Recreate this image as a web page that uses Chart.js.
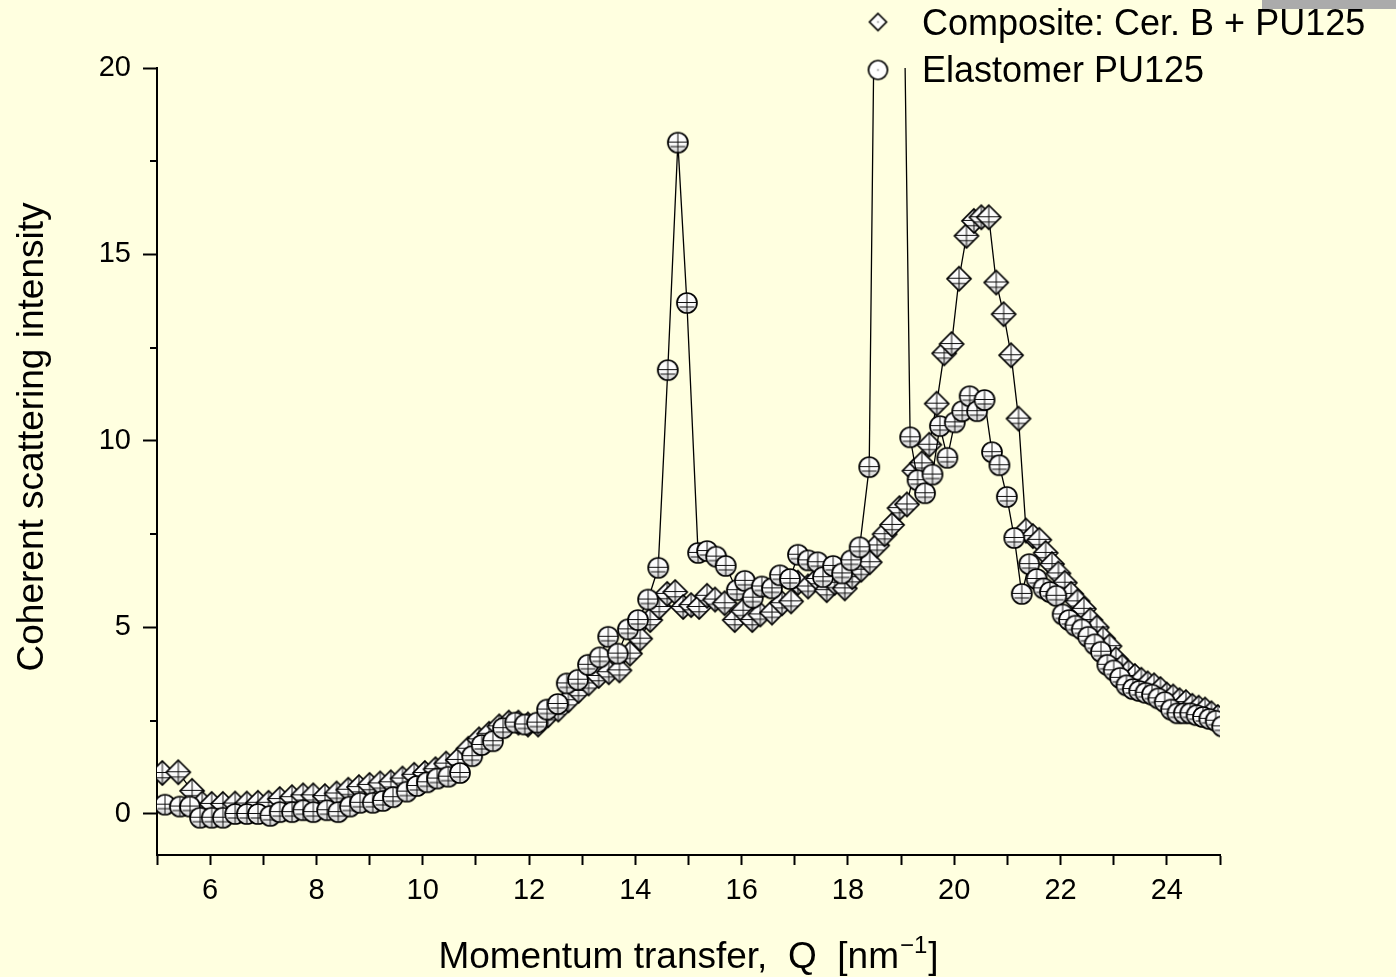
<!DOCTYPE html>
<html>
<head>
<meta charset="utf-8">
<script src="https://cdn.jsdelivr.net/npm/chart.js@4.4.1/dist/chart.umd.min.js"></script>
<style>
  html, body { margin: 0; padding: 0; background: #FFFFE0; }
  #wrap { position: relative; width: 1396px; height: 977px; }
</style>
</head>
<body>
<div id="wrap"><canvas id="c"></canvas></div>
<script>
// Composite: ceramic B + PU125
const compositeQ = [5.1, 5.4, 5.66, 5.85, 6.03, 6.24, 6.47, 6.69, 6.9, 7.1, 7.31, 7.54, 7.75, 7.94, 8.16, 8.38, 8.6, 8.8, 9.0, 9.2,
  9.4, 9.62, 9.84, 10.04, 10.24, 10.44, 10.66, 10.86, 11.06, 11.25, 11.44, 11.62, 11.8, 11.98, 12.17, 12.36, 12.55, 12.74, 12.93, 13.12,
  13.31, 13.5, 13.7, 13.9, 14.09, 14.28, 14.45, 14.6, 14.75, 14.9, 15.05, 15.2, 15.35, 15.5, 15.68, 15.87, 16.03, 16.2, 16.35, 16.57,
  16.76, 16.93, 17.06, 17.25, 17.43, 17.6, 17.75, 17.94, 18.08, 18.25, 18.41, 18.55, 18.69, 18.83, 18.97, 19.11, 19.25, 19.39, 19.53, 19.67,
  19.81, 19.95, 20.09, 20.23, 20.37, 20.51, 20.65, 20.79, 20.93, 21.07, 21.21, 21.35, 21.48, 21.6, 21.72, 21.84, 21.96, 22.08, 22.2, 22.32,
  22.44, 22.56, 22.68, 22.8, 22.92, 23.04, 23.16, 23.28, 23.4, 23.52, 23.64, 23.76, 23.88, 24.0, 24.12, 24.24, 24.36, 24.48, 24.6, 24.72,
  24.84, 24.96, 25.08];
const compositeI = [1.1, 1.12, 0.62, 0.28, 0.27, 0.27, 0.28, 0.28, 0.3, 0.3, 0.4, 0.45, 0.5, 0.5, 0.48, 0.55, 0.65, 0.72, 0.78, 0.82,
  0.85, 0.95, 1.05, 1.1, 1.2, 1.35, 1.45, 1.75, 2.0, 2.15, 2.35, 2.45, 2.45, 2.4, 2.4, 2.65, 2.8, 3.05, 3.3, 3.5,
  3.7, 3.8, 3.85, 4.3, 4.7, 5.2, 5.55, 5.9, 5.95, 5.55, 5.6, 5.55, 5.85, 5.75, 5.65, 5.2, 5.45, 5.2, 5.35, 5.4,
  5.65, 5.7, 6.2, 6.1, 6.3, 6.0, 6.2, 6.05, 6.35, 6.55, 6.75, 7.2, 7.5, 7.75, 8.2, 8.3, 9.2, 9.4, 9.9, 11.0,
  12.35, 12.6, 14.35, 15.5, 15.9, 16.0, 16.0, 14.25, 13.4, 12.3, 10.6, 7.6, 7.45, 7.35, 7.0, 6.7, 6.45, 6.2, 5.9, 5.7,
  5.5, 5.2, 5.0, 4.7, 4.5, 4.15, 3.95, 3.8, 3.7, 3.6, 3.5, 3.45, 3.35, 3.2, 3.15, 3.05, 3.0, 2.9, 2.85, 2.8,
  2.7, 2.6, 2.5];

// Elastomer PU125
const elastomerQ = [5.15, 5.43, 5.62, 5.81, 6.03, 6.24, 6.47, 6.69, 6.9, 7.13, 7.31, 7.54, 7.75, 7.94, 8.2, 8.41, 8.63, 8.82, 9.06, 9.25,
  9.44, 9.7, 9.89, 10.08, 10.27, 10.48, 10.7, 10.93, 11.11, 11.32, 11.51, 11.74, 11.92, 12.15, 12.34, 12.54, 12.71, 12.92, 13.11, 13.33,
  13.49, 13.67, 13.86, 14.05, 14.24, 14.43, 14.61, 14.8, 14.97, 15.18, 15.35, 15.52, 15.7, 15.91, 16.06, 16.21, 16.38, 16.57, 16.72, 16.91,
  17.06, 17.25, 17.43, 17.53, 17.72, 17.89, 18.06, 18.22, 18.4, 18.6, 18.8, 18.98, 19.17, 19.31, 19.45, 19.59, 19.73, 19.87, 20.01, 20.15,
  20.29, 20.43, 20.57, 20.71, 20.85, 20.99, 21.13, 21.27, 21.41, 21.55, 21.68, 21.8, 21.92, 22.04, 22.16, 22.28, 22.4, 22.52, 22.64, 22.76,
  22.88, 23.0, 23.12, 23.24, 23.36, 23.48, 23.6, 23.72, 23.84, 23.96, 24.08, 24.2, 24.32, 24.44, 24.56, 24.68, 24.8, 24.92, 25.04];
const elastomerI = [0.25, 0.2, 0.2, -0.1, -0.1, -0.1, 0.0, 0.0, 0.0, -0.05, 0.05, 0.05, 0.1, 0.05, 0.1, 0.05, 0.2, 0.3, 0.3, 0.35,
  0.45, 0.6, 0.75, 0.85, 0.95, 1.0, 1.1, 1.55, 1.85, 1.95, 2.3, 2.45, 2.4, 2.45, 2.8, 2.95, 3.5, 3.6, 4.0, 4.2,
  4.75, 4.3, 4.95, 5.2, 5.75, 6.6, 11.9, 18.0, 13.7, 7.0, 7.05, 6.9, 6.65, 6.0, 6.25, 5.8, 6.1, 6.05, 6.4, 6.3,
  6.95, 6.8, 6.75, 6.35, 6.65, 6.45, 6.8, 7.15, 9.3, 35, 48, 30, 10.1, 8.95, 8.6, 9.1, 10.4, 9.55, 10.5, 10.8,
  11.2, 10.8, 11.1, 9.7, 9.35, 8.5, 7.4, 5.9, 6.7, 6.3, 6.05, 5.95, 5.85, 5.35, 5.2, 5.05, 4.95, 4.75, 4.55, 4.35,
  4.0, 3.85, 3.65, 3.45, 3.35, 3.3, 3.25, 3.2, 3.1, 3.0, 2.8, 2.7, 2.7, 2.7, 2.65, 2.6, 2.55, 2.5, 2.35];

const seriesLabels = ['Composite: Cer. B + PU125', 'Elastomer PU125'];
const xTickValues = [5, 6, 7, 8, 9, 10, 11, 12, 13, 14, 15, 16, 17, 18, 19, 20, 21, 22, 23, 24, 25];
const yTickValues = [0, 5, 10, 15, 20];
const yMinorTicks = [2.5, 7.5, 12.5, 17.5];
const xTitle = ['Momentum transfer,  Q  [nm', '\u22121', ']'];
const yTitle = 'Coherent scattering intensity';

const FONT = '"Liberation Sans", Arial, Helvetica, sans-serif';
Chart.defaults.font.family = FONT;
Chart.defaults.color = '#000';

// symbol with error-bar crosshair, as plotted
function makeMarker(shape, r, bars) {
  const size = Math.ceil(r * 2 + 4), m = size / 2;
  const cv = document.createElement('canvas');
  cv.width = cv.height = size;
  const g = cv.getContext('2d');
  const path = () => {
    g.beginPath();
    if (shape === 'circle') g.arc(m, m, r, 0, Math.PI * 2);
    else { g.moveTo(m, m - r); g.lineTo(m + r, m); g.lineTo(m, m + r); g.lineTo(m - r, m); g.closePath(); }
  };
  const grad = g.createLinearGradient(0, m - r, 0, m + r);
  grad.addColorStop(0, '#ffffff');
  grad.addColorStop(0.6, '#fafafa');
  grad.addColorStop(1, '#cdcdcd');
  path();
  g.fillStyle = bars ? grad : '#ffffff';
  g.fill();
  if (bars) {
    g.save();
    path(); g.clip();
    g.strokeStyle = '#111'; g.lineWidth = 1;
    g.beginPath();
    g.moveTo(m - r, m - 0.5); g.lineTo(m + r, m - 0.5);
    g.moveTo(m, m - r); g.lineTo(m, m + r);
    const c = r * 0.4, w = r * 0.75;
    g.moveTo(m - w, m + c); g.lineTo(m + w, m + c);
    g.stroke();
    g.restore();
  } else {
    g.fillStyle = '#777';
    g.fillRect(m - 0.75, m - 0.75, 1.5, 1.5);
  }
  path();
  g.strokeStyle = '#000'; g.lineWidth = 1.7;
  g.stroke();
  return cv;
}

const diamondMark = makeMarker('diamond', 12, true);
const circleMark = makeMarker('circle', 10, true);
const diamondKey = makeMarker('diamond', 8.5, false);
const circleKey = makeMarker('circle', 9.5, false);

const toPoints = (qs, is) => qs.map((q, i) => ({ x: q, y: is[i] }));

// axis titles, minor ticks and the key
const decor = {
  id: 'decor',
  afterDraw(chart) {
    const { ctx, chartArea: a, scales: { y } } = chart;
    ctx.save();
    ctx.strokeStyle = '#000';
    ctx.lineWidth = 2;
    yMinorTicks.forEach(v => {
      const py = Math.round(y.getPixelForValue(v));
      ctx.beginPath(); ctx.moveTo(a.left - 7, py); ctx.lineTo(a.left, py); ctx.stroke();
    });

    ctx.fillStyle = '#000';
    // x title with superscript
    const big = '37px ' + FONT, small = '24px ' + FONT;
    ctx.textBaseline = 'alphabetic';
    ctx.textAlign = 'left';
    ctx.font = big; const w0 = ctx.measureText(xTitle[0]).width, w2 = ctx.measureText(xTitle[2]).width;
    ctx.font = small; const w1 = ctx.measureText(xTitle[1]).width;
    let x0 = (a.left + a.right) / 2 - (w0 + w1 + w2 + 2) / 2;
    const base = 968;
    ctx.font = big; ctx.fillText(xTitle[0], x0, base);
    ctx.font = small; ctx.fillText(xTitle[1], x0 + w0 + 1, base - 15);
    ctx.font = big; ctx.fillText(xTitle[2], x0 + w0 + w1 + 2, base);

    // y title
    ctx.save();
    ctx.translate(33, 437);
    ctx.rotate(-Math.PI / 2);
    ctx.textAlign = 'center';
    ctx.textBaseline = 'middle';
    ctx.font = big;
    ctx.fillText(yTitle, 0, 0);
    ctx.restore();

    // grey strip at the top right corner
    ctx.fillStyle = '#ababab';
    ctx.fillRect(1262, 0, 134, 9);

    // key
    ctx.drawImage(diamondKey, 878 - diamondKey.width / 2, 22 - diamondKey.height / 2);
    ctx.drawImage(circleKey, 878 - circleKey.width / 2, 70 - circleKey.height / 2);
    ctx.fillStyle = '#000';
    ctx.font = '36px ' + FONT;
    ctx.textBaseline = 'middle';
    ctx.textAlign = 'left';
    ctx.fillText(seriesLabels[0], 922, 25);
    ctx.fillText(seriesLabels[1], 922, 72);
    ctx.restore();
  }
};

new Chart(document.getElementById('c'), {
  type: 'scatter',
  data: {
    datasets: [
      {
        label: seriesLabels[0],
        data: toPoints(compositeQ, compositeI),
        showLine: true,
        borderColor: '#000',
        borderWidth: 1.3,
        tension: 0,
        pointStyle: diamondMark,
        pointRadius: 10,
        clip: 0,
        order: 2
      },
      {
        label: seriesLabels[1],
        data: toPoints(elastomerQ, elastomerI),
        showLine: true,
        borderColor: '#000',
        borderWidth: 1.3,
        tension: 0,
        pointStyle: circleMark,
        pointRadius: 10,
        clip: 0,
        order: 1
      }
    ]
  },
  options: {
    animation: false,
    responsive: true,
    maintainAspectRatio: false,
    layout: { padding: { top: 68, right: 176, left: 0, bottom: 0 } },
    plugins: { legend: { display: false }, tooltip: { enabled: false } },
    events: [],
    scales: {
      x: {
        type: 'linear',
        min: 5, max: 25,
        afterBuildTicks: s => { s.ticks = xTickValues.map(v => ({ value: v })); },
        afterFit: s => { s.height = 122; },
        ticks: {
          autoSkip: false, maxRotation: 0, padding: 9,
          font: { size: 29 }, color: '#000',
          callback: v => (v % 2 === 0 ? String(v) : '')
        },
        grid: { drawOnChartArea: false, drawTicks: true, tickLength: 10, tickColor: '#000', tickWidth: 2 },
        border: { display: true, color: '#000', width: 2 }
      },
      y: {
        type: 'linear',
        min: -1.1, max: 20,
        afterBuildTicks: s => { s.ticks = yTickValues.map(v => ({ value: v })); },
        afterFit: s => { s.width = 157; },
        ticks: { padding: 12, font: { size: 29 }, color: '#000' },
        grid: { drawOnChartArea: false, drawTicks: true, tickLength: 14, tickColor: '#000', tickWidth: 2 },
        border: { display: true, color: '#000', width: 2 }
      }
    }
  },
  plugins: [decor]
});
</script>
</body>
</html>
